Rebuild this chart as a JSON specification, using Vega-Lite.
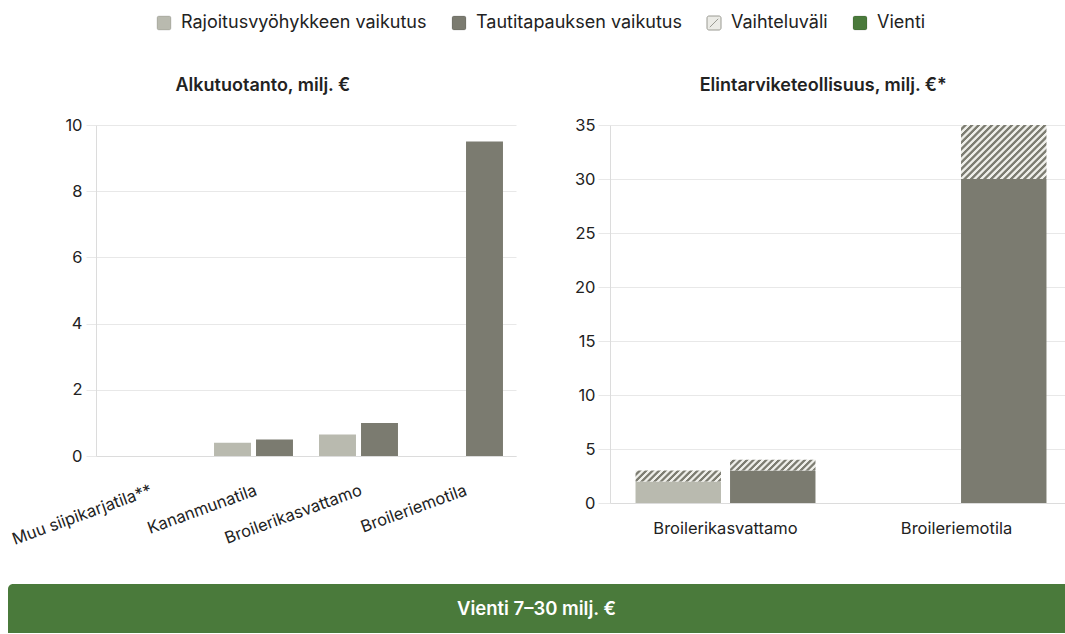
{
  "$schema": "https://vega.github.io/schema/vega-lite/v6.json",
  "padding": {"left": 8, "top": 14, "right": 0, "bottom": 0},
  "config": {
    "font": "Inter",
    "view": {"stroke": null},
    "axis": {"labelFont": "Inter", "labelFontSize": 16.5, "labelColor": "#222222", "gridColor": "#e8e8e8", "domainColor": "#dcdcdc", "tickColor": "#e8e8e8", "title": null},
    "title": {"font": "Inter", "fontSize": 18, "fontWeight": 600, "color": "#222222", "anchor": "middle", "frame": "bounds"},
    "legend": {"layout": {"top": {"anchor": "middle"}}}
  },
  "datasets": {
    "alku": [
      {"kategoria": "Muu siipikarjatila**", "sarja": "Rajoitusvyöhykkeen vaikutus", "arvo": 0},
      {"kategoria": "Muu siipikarjatila**", "sarja": "Tautitapauksen vaikutus", "arvo": 0},
      {"kategoria": "Kananmunatila", "sarja": "Rajoitusvyöhykkeen vaikutus", "arvo": 0.4},
      {"kategoria": "Kananmunatila", "sarja": "Tautitapauksen vaikutus", "arvo": 0.5},
      {"kategoria": "Broilerikasvattamo", "sarja": "Rajoitusvyöhykkeen vaikutus", "arvo": 0.65},
      {"kategoria": "Broilerikasvattamo", "sarja": "Tautitapauksen vaikutus", "arvo": 1.0},
      {"kategoria": "Broileriemotila", "sarja": "Rajoitusvyöhykkeen vaikutus", "arvo": 0},
      {"kategoria": "Broileriemotila", "sarja": "Tautitapauksen vaikutus", "arvo": 9.5}
    ],
    "elin": [
      {"kategoria": "Broilerikasvattamo", "sarja": "Rajoitusvyöhykkeen vaikutus", "arvo": 2, "ala": 2, "yla": 3},
      {"kategoria": "Broilerikasvattamo", "sarja": "Tautitapauksen vaikutus", "arvo": 3, "ala": 3, "yla": 4},
      {"kategoria": "Broileriemotila", "sarja": "Rajoitusvyöhykkeen vaikutus", "arvo": 0, "ala": null, "yla": null},
      {"kategoria": "Broileriemotila", "sarja": "Tautitapauksen vaikutus", "arvo": 30, "ala": 30, "yla": 35}
    ]
  },
  "spacing": 36,
  "vconcat": [
    {
      "spacing": 0,
      "hconcat": [
        {
          "width": 1,
          "height": 1,
          "data": {"values": [{"tyhja": ""}]},
          "mark": {"type": "text"},
          "encoding": {"text": {"field": "tyhja"}}
        },
        {
          "spacing": 58,
          "resolve": {"scale": {"xOffset": "independent", "x": "independent", "y": "independent"}},
          "hconcat": [
            {
              "title": {"text": "Alkutuotanto, milj. €", "offset": 22},
              "width": 420,
              "height": 331,
              "data": {"name": "alku"},
              "mark": {"type": "bar"},
              "encoding": {
                "x": {"field": "kategoria", "type": "nominal", "sort": ["Muu siipikarjatila**", "Kananmunatila", "Broilerikasvattamo", "Broileriemotila"], "scale": {"paddingInner": 0, "paddingOuter": 0}, "axis": {"labelAngle": -20, "ticks": false, "labelPadding": 26, "grid": false}},
                "xOffset": {"field": "sarja", "type": "nominal", "scale": {"domain": ["Rajoitusvyöhykkeen vaikutus", "Tautitapauksen vaikutus"], "paddingInner": 0.12, "paddingOuter": 0.31}},
                "y": {"field": "arvo", "type": "quantitative", "scale": {"domain": [0, 10]}, "axis": {"values": [0, 2, 4, 6, 8, 10], "tickSize": 10, "labelPadding": 4}},
                "color": {
                  "field": "sarja", "type": "nominal",
                  "scale": {
                    "domain": ["Rajoitusvyöhykkeen vaikutus", "Tautitapauksen vaikutus", "Vaihteluväli", "Vienti"],
                    "range": ["#b9baaf", "#7b7b70", "#ebebe6", "#4a7a3b"]
                  },
                  "legend": {"title": null, "orient": "top", "direction": "horizontal", "labelFont": "Inter", "labelFontSize": 18, "labelColor": "#222222", "labelLimit": 400, "symbolType": "M-0.72,-1H0.72A0.28,0.28,0,0,1,1,-0.72V0.72A0.28,0.28,0,0,1,0.72,1H-0.72A0.28,0.28,0,0,1,-1,0.72V-0.72A0.28,0.28,0,0,1,-0.72,-1Z", "symbolSize": 196, "columnPadding": 23, "labelOffset": 8, "offset": 45,
                    "encode": {"symbols": {"update": {
                      "shape": [{"test": "datum.value === 'Vaihteluväli'", "value": "M-0.72,-1H0.72A0.28,0.28,0,0,1,1,-0.72V0.72A0.28,0.28,0,0,1,0.72,1H-0.72A0.28,0.28,0,0,1,-1,0.72V-0.72A0.28,0.28,0,0,1,-0.72,-1Z M-0.6,0.6L0.6,-0.6"}, {"value": "M-0.72,-1H0.72A0.28,0.28,0,0,1,1,-0.72V0.72A0.28,0.28,0,0,1,0.72,1H-0.72A0.28,0.28,0,0,1,-1,0.72V-0.72A0.28,0.28,0,0,1,-0.72,-1Z"}],
                      "stroke": [{"test": "datum.value === 'Vaihteluväli'", "value": "#9a9a92"}, {"value": "rgba(0,0,0,0.12)"}],
                      "strokeWidth": {"value": 1}
                    }}}}
                }
              }
            },
            {
              "title": {"text": "Elintarviketeollisuus, milj. €*", "offset": 22},
              "width": 462,
              "height": 378,
              "data": {"name": "elin"},
              "encoding": {
                "x": {"field": "kategoria", "type": "nominal", "sort": ["Broilerikasvattamo", "Broileriemotila"], "scale": {"paddingInner": 0, "paddingOuter": 0}, "axis": {"labelAngle": 0, "ticks": false, "labelPadding": 17, "grid": false}},
                "xOffset": {"field": "sarja", "type": "nominal", "scale": {"domain": ["Rajoitusvyöhykkeen vaikutus", "Tautitapauksen vaikutus"], "paddingInner": 0.096, "paddingOuter": 0.27}}
              },
              "layer": [
                {
                  "mark": {"type": "bar"},
                  "encoding": {
                    "y": {"field": "arvo", "type": "quantitative", "scale": {"domain": [0, 35]}, "axis": {"values": [0, 5, 10, 15, 20, 25, 30, 35], "tickSize": 12, "labelPadding": 3}},
                    "color": {
                      "field": "sarja", "type": "nominal",
                      "scale": {
                        "domain": ["Rajoitusvyöhykkeen vaikutus", "Tautitapauksen vaikutus", "Vaihteluväli", "Vienti"],
                        "range": ["#b9baaf", "#7b7b70", "#ebebe6", "#4a7a3b"]
                      },
                      "legend": {"title": null, "orient": "top", "direction": "horizontal", "labelFont": "Inter", "labelFontSize": 18, "labelColor": "#222222", "labelLimit": 400, "symbolType": "M-0.72,-1H0.72A0.28,0.28,0,0,1,1,-0.72V0.72A0.28,0.28,0,0,1,0.72,1H-0.72A0.28,0.28,0,0,1,-1,0.72V-0.72A0.28,0.28,0,0,1,-0.72,-1Z", "symbolSize": 196, "columnPadding": 23, "labelOffset": 8, "offset": 45,
                        "encode": {"symbols": {"update": {
                          "shape": [{"test": "datum.value === 'Vaihteluväli'", "value": "M-0.72,-1H0.72A0.28,0.28,0,0,1,1,-0.72V0.72A0.28,0.28,0,0,1,0.72,1H-0.72A0.28,0.28,0,0,1,-1,0.72V-0.72A0.28,0.28,0,0,1,-0.72,-1Z M-0.6,0.6L0.6,-0.6"}, {"value": "M-0.72,-1H0.72A0.28,0.28,0,0,1,1,-0.72V0.72A0.28,0.28,0,0,1,0.72,1H-0.72A0.28,0.28,0,0,1,-1,0.72V-0.72A0.28,0.28,0,0,1,-0.72,-1Z"}],
                          "stroke": [{"test": "datum.value === 'Vaihteluväli'", "value": "#9a9a92"}, {"value": "rgba(0,0,0,0.12)"}],
                          "strokeWidth": {"value": 1}
                        }}}}
                    }
                  }
                },
                {
                  "transform": [{"filter": "datum.kategoria === 'Broilerikasvattamo' && datum.yla != null"}],
                  "mark": {"type": "bar", "fill": {"gradient": "linear", "x1": 0, "y1": 0, "x2": 1.109, "y2": 0.141, "stops": [
                    {"offset": 0, "color": "#eeeee9"}, {"offset": 0.0233, "color": "#eeeee9"}, {"offset": 0.0333, "color": "#7d7d72"}, {"offset": 0.0567, "color": "#7d7d72"},
                    {"offset": 0.0667, "color": "#eeeee9"}, {"offset": 0.09, "color": "#eeeee9"}, {"offset": 0.1, "color": "#7d7d72"}, {"offset": 0.1233, "color": "#7d7d72"},
                    {"offset": 0.1333, "color": "#eeeee9"}, {"offset": 0.1567, "color": "#eeeee9"}, {"offset": 0.1667, "color": "#7d7d72"}, {"offset": 0.19, "color": "#7d7d72"},
                    {"offset": 0.2, "color": "#eeeee9"}, {"offset": 0.2233, "color": "#eeeee9"}, {"offset": 0.2333, "color": "#7d7d72"}, {"offset": 0.2567, "color": "#7d7d72"},
                    {"offset": 0.2667, "color": "#eeeee9"}, {"offset": 0.29, "color": "#eeeee9"}, {"offset": 0.3, "color": "#7d7d72"}, {"offset": 0.3233, "color": "#7d7d72"},
                    {"offset": 0.3333, "color": "#eeeee9"}, {"offset": 0.3567, "color": "#eeeee9"}, {"offset": 0.3667, "color": "#7d7d72"}, {"offset": 0.39, "color": "#7d7d72"},
                    {"offset": 0.4, "color": "#eeeee9"}, {"offset": 0.4233, "color": "#eeeee9"}, {"offset": 0.4333, "color": "#7d7d72"}, {"offset": 0.4567, "color": "#7d7d72"},
                    {"offset": 0.4667, "color": "#eeeee9"}, {"offset": 0.49, "color": "#eeeee9"}, {"offset": 0.5, "color": "#7d7d72"}, {"offset": 0.5233, "color": "#7d7d72"},
                    {"offset": 0.5333, "color": "#eeeee9"}, {"offset": 0.5567, "color": "#eeeee9"}, {"offset": 0.5667, "color": "#7d7d72"}, {"offset": 0.59, "color": "#7d7d72"},
                    {"offset": 0.6, "color": "#eeeee9"}, {"offset": 0.6233, "color": "#eeeee9"}, {"offset": 0.6333, "color": "#7d7d72"}, {"offset": 0.6567, "color": "#7d7d72"},
                    {"offset": 0.6667, "color": "#eeeee9"}, {"offset": 0.69, "color": "#eeeee9"}, {"offset": 0.7, "color": "#7d7d72"}, {"offset": 0.7233, "color": "#7d7d72"},
                    {"offset": 0.7333, "color": "#eeeee9"}, {"offset": 0.7567, "color": "#eeeee9"}, {"offset": 0.7667, "color": "#7d7d72"}, {"offset": 0.79, "color": "#7d7d72"},
                    {"offset": 0.8, "color": "#eeeee9"}, {"offset": 0.8233, "color": "#eeeee9"}, {"offset": 0.8333, "color": "#7d7d72"}, {"offset": 0.8567, "color": "#7d7d72"},
                    {"offset": 0.8667, "color": "#eeeee9"}, {"offset": 0.89, "color": "#eeeee9"}, {"offset": 0.9, "color": "#7d7d72"}, {"offset": 0.9233, "color": "#7d7d72"},
                    {"offset": 0.9333, "color": "#eeeee9"}, {"offset": 0.9567, "color": "#eeeee9"}, {"offset": 0.9667, "color": "#7d7d72"}, {"offset": 0.99, "color": "#7d7d72"},
                    {"offset": 1, "color": "#eeeee9"}
                  ]}},
                  "encoding": {
                    "y": {"field": "ala", "type": "quantitative"},
                    "y2": {"field": "yla"}
                  }
                },
                {
                  "transform": [{"filter": "datum.kategoria === 'Broileriemotila' && datum.yla != null"}],
                  "mark": {"type": "bar", "fill": {"gradient": "linear", "x1": 0, "y1": 0, "x2": 1.166, "y2": 0.737, "stops": [
                    {"offset": 0, "color": "#eeeee9"}, {"offset": 0.0167, "color": "#eeeee9"}, {"offset": 0.0238, "color": "#7d7d72"}, {"offset": 0.0405, "color": "#7d7d72"},
                    {"offset": 0.0476, "color": "#eeeee9"}, {"offset": 0.0643, "color": "#eeeee9"}, {"offset": 0.0714, "color": "#7d7d72"}, {"offset": 0.0881, "color": "#7d7d72"},
                    {"offset": 0.0952, "color": "#eeeee9"}, {"offset": 0.1119, "color": "#eeeee9"}, {"offset": 0.119, "color": "#7d7d72"}, {"offset": 0.1357, "color": "#7d7d72"},
                    {"offset": 0.1429, "color": "#eeeee9"}, {"offset": 0.1595, "color": "#eeeee9"}, {"offset": 0.1667, "color": "#7d7d72"}, {"offset": 0.1833, "color": "#7d7d72"},
                    {"offset": 0.1905, "color": "#eeeee9"}, {"offset": 0.2071, "color": "#eeeee9"}, {"offset": 0.2143, "color": "#7d7d72"}, {"offset": 0.231, "color": "#7d7d72"},
                    {"offset": 0.2381, "color": "#eeeee9"}, {"offset": 0.2548, "color": "#eeeee9"}, {"offset": 0.2619, "color": "#7d7d72"}, {"offset": 0.2786, "color": "#7d7d72"},
                    {"offset": 0.2857, "color": "#eeeee9"}, {"offset": 0.3024, "color": "#eeeee9"}, {"offset": 0.3095, "color": "#7d7d72"}, {"offset": 0.3262, "color": "#7d7d72"},
                    {"offset": 0.3333, "color": "#eeeee9"}, {"offset": 0.35, "color": "#eeeee9"}, {"offset": 0.3571, "color": "#7d7d72"}, {"offset": 0.3738, "color": "#7d7d72"},
                    {"offset": 0.381, "color": "#eeeee9"}, {"offset": 0.3976, "color": "#eeeee9"}, {"offset": 0.4048, "color": "#7d7d72"}, {"offset": 0.4214, "color": "#7d7d72"},
                    {"offset": 0.4286, "color": "#eeeee9"}, {"offset": 0.4452, "color": "#eeeee9"}, {"offset": 0.4524, "color": "#7d7d72"}, {"offset": 0.469, "color": "#7d7d72"},
                    {"offset": 0.4762, "color": "#eeeee9"}, {"offset": 0.4929, "color": "#eeeee9"}, {"offset": 0.5, "color": "#7d7d72"}, {"offset": 0.5167, "color": "#7d7d72"},
                    {"offset": 0.5238, "color": "#eeeee9"}, {"offset": 0.5405, "color": "#eeeee9"}, {"offset": 0.5476, "color": "#7d7d72"}, {"offset": 0.5643, "color": "#7d7d72"},
                    {"offset": 0.5714, "color": "#eeeee9"}, {"offset": 0.5881, "color": "#eeeee9"}, {"offset": 0.5952, "color": "#7d7d72"}, {"offset": 0.6119, "color": "#7d7d72"},
                    {"offset": 0.619, "color": "#eeeee9"}, {"offset": 0.6357, "color": "#eeeee9"}, {"offset": 0.6429, "color": "#7d7d72"}, {"offset": 0.6595, "color": "#7d7d72"},
                    {"offset": 0.6667, "color": "#eeeee9"}, {"offset": 0.6833, "color": "#eeeee9"}, {"offset": 0.6905, "color": "#7d7d72"}, {"offset": 0.7071, "color": "#7d7d72"},
                    {"offset": 0.7143, "color": "#eeeee9"}, {"offset": 0.731, "color": "#eeeee9"}, {"offset": 0.7381, "color": "#7d7d72"}, {"offset": 0.7548, "color": "#7d7d72"},
                    {"offset": 0.7619, "color": "#eeeee9"}, {"offset": 0.7786, "color": "#eeeee9"}, {"offset": 0.7857, "color": "#7d7d72"}, {"offset": 0.8024, "color": "#7d7d72"},
                    {"offset": 0.8095, "color": "#eeeee9"}, {"offset": 0.8262, "color": "#eeeee9"}, {"offset": 0.8333, "color": "#7d7d72"}, {"offset": 0.85, "color": "#7d7d72"},
                    {"offset": 0.8571, "color": "#eeeee9"}, {"offset": 0.8738, "color": "#eeeee9"}, {"offset": 0.881, "color": "#7d7d72"}, {"offset": 0.8976, "color": "#7d7d72"},
                    {"offset": 0.9048, "color": "#eeeee9"}, {"offset": 0.9214, "color": "#eeeee9"}, {"offset": 0.9286, "color": "#7d7d72"}, {"offset": 0.9452, "color": "#7d7d72"},
                    {"offset": 0.9524, "color": "#eeeee9"}, {"offset": 0.969, "color": "#eeeee9"}, {"offset": 0.9762, "color": "#7d7d72"}, {"offset": 0.9929, "color": "#7d7d72"},
                    {"offset": 1, "color": "#eeeee9"}
                  ]}},
                  "encoding": {
                    "y": {"field": "ala", "type": "quantitative"},
                    "y2": {"field": "yla"}
                  }
                }
              ]
            }
          ]
        }
      ]
    },
    {
      "width": 1057,
      "height": 49,
      "data": {"values": [{"teksti": "Vienti 7–30 milj. €"}]},
      "layer": [
        {
          "mark": {"type": "rect", "color": "#4a7a3b", "cornerRadiusTopLeft": 5},
          "encoding": {"x": {"value": 0}, "x2": {"value": "width"}, "y": {"value": 0}, "y2": {"value": "height"}}
        },
        {
          "mark": {"type": "text", "color": "#ffffff", "font": "Inter", "fontSize": 18.5, "fontWeight": 600},
          "encoding": {"text": {"field": "teksti"}}
        }
      ]
    }
  ]
}
